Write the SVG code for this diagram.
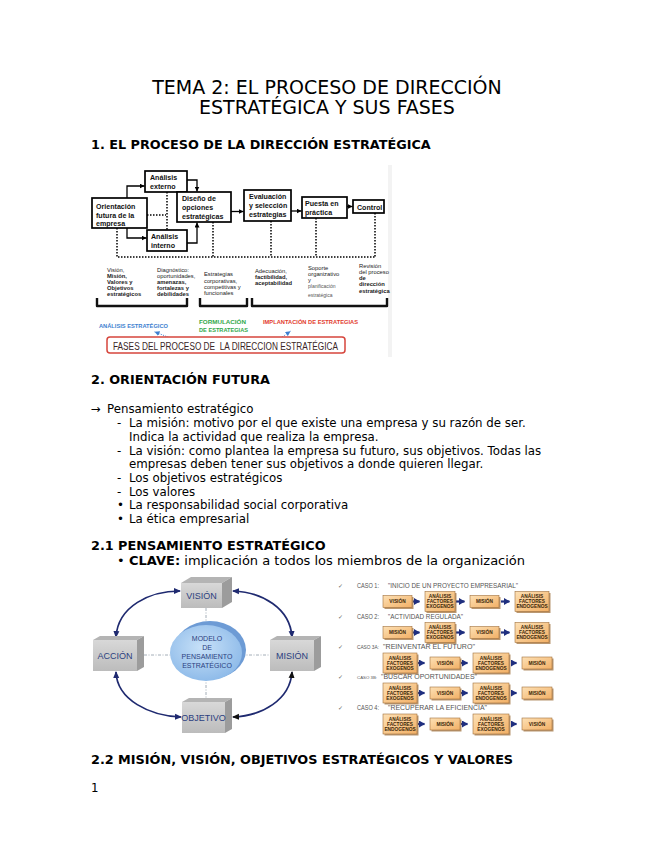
<svg xmlns="http://www.w3.org/2000/svg" width="655" height="848" viewBox="0 0 655 848">
<defs>
<style>
.p{font-family:"DejaVu Sans",sans-serif;fill:#000}
.ti{font-size:19px;text-anchor:middle}
.h{font-size:12.8px;font-weight:bold}
.b{font-size:11.8px}
.bx{fill:#fff;stroke:#000;stroke-width:1.7}
.bt{font-family:"Liberation Sans",Arial,sans-serif;font-weight:bold;font-size:7.1px;fill:#111}
.st{font-family:"Liberation Sans",Arial,sans-serif;font-size:5.8px;fill:#222}
.sm{font-size:5px;fill:#555}
.sb{font-weight:bold}
.ln{fill:none;stroke:#000;stroke-width:1.3}
.dt{fill:none;stroke:#000;stroke-width:1.5;stroke-dasharray:1.5 1.5}
.br{fill:none;stroke:#111;stroke-width:2.4;stroke-linejoin:round}
.lb{font-family:"Liberation Sans",Arial,sans-serif;font-weight:bold;font-size:5.8px}
.gf{fill:url(#gf)}
.gt{fill:#b4b4b4}
.gr{fill:#9c9c9c}
.ct{font-family:"Liberation Sans",Arial,sans-serif;font-size:9px;fill:#2b3f80;text-anchor:middle}
.et{font-family:"Liberation Sans",Arial,sans-serif;font-size:7px;fill:#2b3f80;text-anchor:middle}
.cl{fill:none;stroke:#1f2a70;stroke-width:1.7}
.cd{fill:none;stroke:#8d9aa6;stroke-width:0.8;stroke-dasharray:3 1.5 1 1.5}
.ob{fill:url(#og);stroke:#a0703c;stroke-width:0.6}
.os{fill:#9b6b35;opacity:0.7}
.ot{font-family:"Liberation Sans",Arial,sans-serif;font-weight:bold;font-size:4.8px;fill:#3b2508;text-anchor:middle}
.ca{fill:none;stroke:#1f2f7f;stroke-width:2.2}
.cs{font-family:"Liberation Sans",Arial,sans-serif;font-size:6.3px;fill:#555}
.cn{font-size:4.6px}
.cm{font-size:4.2px}
.ck{font-family:"DejaVu Sans",sans-serif;font-size:6px;fill:#666}
</style>
<marker id="ah" markerUnits="userSpaceOnUse" markerWidth="5" markerHeight="5" refX="5" refY="2.5" orient="auto"><path d="M0,0 L5,2.5 L0,5z" fill="#000"/></marker>
<marker id="nv" markerUnits="userSpaceOnUse" markerWidth="7" markerHeight="7" refX="6" refY="3.5" orient="auto-start-reverse"><path d="M0,0.5 L7,3.5 L0,6.5z" fill="#1f2a70"/></marker>
<marker id="bk" markerUnits="userSpaceOnUse" markerWidth="7" markerHeight="7" refX="6" refY="3.5" orient="auto-start-reverse"><path d="M0,0.5 L7,3.5 L0,6.5z" fill="#111"/></marker>
<marker id="na" markerUnits="userSpaceOnUse" markerWidth="6" markerHeight="7" refX="5.5" refY="3.5" orient="auto"><path d="M0,0 L6,3.5 L0,7z" fill="#1f2f7f"/></marker>
<marker id="ba" markerUnits="userSpaceOnUse" markerWidth="5" markerHeight="5" refX="5" refY="2.5" orient="auto"><path d="M0,0 L5,2.5 L0,5z" fill="#3d7fd0"/></marker>
<linearGradient id="og" x1="0" y1="0" x2="1" y2="1"><stop offset="0" stop-color="#fde0b4"/><stop offset="1" stop-color="#f2b066"/></linearGradient>
<radialGradient id="eg" cx="0.45" cy="0.4" r="0.65"><stop offset="0" stop-color="#c8e1f8"/><stop offset="1" stop-color="#8ab8e8"/></radialGradient>
<linearGradient id="gf" x1="0" y1="0" x2="0" y2="1"><stop offset="0" stop-color="#d8d8d8"/><stop offset="1" stop-color="#bcbcbc"/></linearGradient>
</defs>
<rect width="655" height="848" fill="#fff"/>

<g id="page-text" class="p">
<text class="ti" x="327" y="93.5">TEMA 2: EL PROCESO DE DIRECCIÓN</text>
<text class="ti" x="327" y="113.5">ESTRATÉGICA Y SUS FASES</text>
<text class="h" x="91" y="149">1. EL PROCESO DE LA DIRECCIÓN ESTRATÉGICA</text>
<text class="h" x="91" y="384">2. ORIENTACIÓN FUTURA</text>
<text class="b" x="91" y="413">→</text>
<text class="b" x="107" y="413">Pensamiento estratégico</text>
<text class="b" x="117" y="427">-</text>
<text class="b" x="129" y="427">La misión: motivo por el que existe una empresa y su razón de ser.</text>
<text class="b" x="129" y="441">Indica la actividad que realiza la empresa.</text>
<text class="b" x="117" y="454.5">-</text>
<text class="b" x="129" y="454.5">La visión: como plantea la empresa su futuro, sus objetivos. Todas las</text>
<text class="b" x="129" y="468">empresas deben tener sus objetivos a donde quieren llegar.</text>
<text class="b" x="117" y="482">-</text>
<text class="b" x="129" y="482">Los objetivos estratégicos</text>
<text class="b" x="117" y="495.5">-</text>
<text class="b" x="129" y="495.5">Los valores</text>
<text class="b" x="117" y="509">•</text>
<text class="b" x="129" y="509">La responsabilidad social corporativa</text>
<text class="b" x="117" y="522.5">•</text>
<text class="b" x="129" y="522.5">La ética empresarial</text>
<text class="h" x="91" y="550">2.1 PENSAMIENTO ESTRATÉGICO</text>
<text x="117" y="565" font-size="13">•</text>
<text x="129" y="565" font-size="13"><tspan font-weight="bold">CLAVE:</tspan> implicación a todos los miembros de la organización</text>
<text class="h" x="91" y="764">2.2 MISIÓN, VISIÓN, OBJETIVOS ESTRATÉGICOS Y VALORES</text>
<text class="b" x="91" y="792">1</text>
</g>

<g id="fig1">
<rect x="91" y="165" width="301" height="192" fill="#fff"/>
<rect x="388" y="165" width="4" height="192" fill="#f3f3f3"/>
<g id="connectors1">
<path class="ln" d="M127,198 V186 H144.5" marker-end="url(#ah)"/>
<path class="ln" d="M127,228 V238 H146.5" marker-end="url(#ah)"/>
<path class="ln" d="M187,180 H197 V191.5" marker-end="url(#ah)"/>
<path class="ln" d="M187,243 H197 V222.5" marker-end="url(#ah)"/>
<path class="ln" d="M231,211.5 H243.5" marker-end="url(#ah)"/>
<path class="ln" d="M291,211 H301.5" marker-end="url(#ah)"/>
<path class="ln" d="M347,206.5 H352.5" marker-end="url(#ah)"/>
<path class="dt" d="M167,192 V230"/>
<path class="dt" d="M147,215 H166"/>
<path class="dt" d="M117,228 V257 H375"/>
<path class="dt" d="M213,222 V257"/>
<path class="dt" d="M271,221 V257"/>
<path class="dt" d="M316,218 V257"/>
<path class="dt" d="M375,213 V257"/>
</g>
<g id="n-orientacion"><rect class="bx" x="92" y="198" width="55" height="30"/>
<text class="bt" x="96" y="209">Orientación</text><text class="bt" x="96" y="218">futura de la</text><text class="bt" x="96" y="226">empresa</text></g>
<g id="n-ext"><rect class="bx" x="145" y="171" width="42" height="21"/>
<text class="bt" x="150" y="180">Análisis</text><text class="bt" x="150" y="189">externo</text></g>
<g id="n-int"><rect class="bx" x="147" y="230" width="40" height="21"/>
<text class="bt" x="151" y="239">Análisis</text><text class="bt" x="151" y="248">interno</text></g>
<g id="n-diseno"><rect class="bx" x="177" y="192" width="54" height="30"/>
<text class="bt" x="182" y="201">Diseño de</text><text class="bt" x="182" y="210">opciones</text><text class="bt" x="182" y="219">estratégicas</text></g>
<g id="n-eval"><rect class="bx" x="244" y="190" width="47" height="31"/>
<text class="bt" x="249" y="199">Evaluación</text><text class="bt" x="249" y="208">y selección</text><text class="bt" x="249" y="217">estrategias</text></g>
<g id="n-puesta"><rect class="bx" x="302" y="197" width="45" height="21"/>
<text class="bt" x="305" y="206">Puesta en</text><text class="bt" x="305" y="215">práctica</text></g>
<g id="n-control"><rect class="bx" x="353" y="200" width="31" height="13"/>
<text class="bt" x="357" y="209.5">Control</text></g>

<g id="subtexts">
<text class="st" x="107" y="272">Visión,</text>
<text class="st sb" x="107" y="278">Misión,</text>
<text class="st sb" x="107" y="284">Valores y</text>
<text class="st sb" x="107" y="290">Objetivos</text>
<text class="st sb" x="107" y="296">estratégicos</text>
<text class="st" x="157" y="272">Diagnóstico:</text>
<text class="st" x="157" y="278">oportunidades,</text>
<text class="st sb" x="157" y="284">amenazas,</text>
<text class="st sb" x="157" y="290">fortalezas y</text>
<text class="st sb" x="157" y="296">debilidades</text>
<text class="st" x="204" y="276">Estrategias</text>
<text class="st" x="204" y="283">corporativas,</text>
<text class="st" x="204" y="289">competitivas y</text>
<text class="st" x="204" y="295">funcionales</text>
<text class="st" x="255" y="273">Adecuación,</text>
<text class="st sb" x="255" y="279">factibilidad,</text>
<text class="st sb" x="255" y="285">aceptabilidad</text>
<text class="st" x="308" y="270">Soporte</text>
<text class="st" x="308" y="276">organizativo</text>
<text class="st" x="308" y="282">y</text>
<text class="st sm" x="308" y="288">planificación</text>
<text class="st sm" x="308" y="297">estratégica</text>
<text class="st" x="359" y="268">Revisión</text>
<text class="st" x="359" y="274">del proceso</text>
<text class="st sb" x="359" y="280">de</text>
<text class="st sb" x="359" y="286">dirección</text>
<text class="st sb" x="359" y="293">estratégica</text>
</g>
<path class="br" d="M97,298 V306 H187 V298"/>
<path class="br" d="M200,298 V306 H247 V298"/>
<path class="br" d="M252,298 V306 H387 V298"/>
<text class="lb" x="99" y="328" fill="#3d7fd0" textLength="69" lengthAdjust="spacingAndGlyphs">ANÁLISIS ESTRATÉGICO</text>
<text class="lb" x="199" y="324" fill="#31a84a" textLength="47" lengthAdjust="spacingAndGlyphs">FORMULACIÓN</text>
<text class="lb" x="199" y="331.5" fill="#31a84a" textLength="49" lengthAdjust="spacingAndGlyphs">DE ESTRATEGIAS</text>
<text class="lb" x="263" y="323.5" fill="#e23a2e" textLength="95" lengthAdjust="spacingAndGlyphs">IMPLANTACIÓN DE ESTRATEGIAS</text>
<path d="M173,339 L154.5,331.8" fill="none" stroke="#3d7fd0" stroke-width="0.9" stroke-dasharray="1.2 1.2" marker-end="url(#ba)"/>
<path d="M278,340 L290.5,331.2" fill="none" stroke="#3d7fd0" stroke-width="0.9" stroke-dasharray="1.2 1.2" marker-end="url(#ba)"/>
<rect x="107" y="337" width="238" height="16" rx="3" fill="#fff" stroke="#d6453c" stroke-width="1.5"/>
<text x="113" y="349.5" xml:space="preserve" font-family="Liberation Sans, Arial, sans-serif" font-size="10" fill="#3a2626" textLength="225" lengthAdjust="spacingAndGlyphs">FASES DEL PROCESO DE  LA DIRECCION ESTRATÉGICA</text>
</g>

<g id="fig2">
<g id="connectors2">
<path class="cd" d="M206,608 V702"/>
<path class="cd" d="M137,655 H270"/>
<path class="cl" d="M180,591 C150,591 118,606 116,637" marker-start="url(#nv)" marker-end="url(#nv)"/>
<path class="cl" d="M233,591 C262,592 290,608 292,637" marker-start="url(#nv)" marker-end="url(#nv)"/>
<path class="cl" d="M116,672 C117,700 150,716 181,717" marker-start="url(#nv)" marker-end="url(#nv)"/>
<path class="cl" d="M292,672 C290,700 262,716 233,717" stroke="#111" marker-start="url(#bk)" marker-end="url(#bk)"/>
</g>
<g id="n-vision">
<polygon class="gt" points="181,583 191,577 232,577 222,583"/>
<polygon class="gr" points="222,583 232,577 232,602 222,608"/>
<rect class="gf" x="181" y="583" width="41" height="25"/>
<text class="ct" x="201.5" y="599">VISIÓN</text></g>
<g id="n-accion">
<polygon class="gt" points="93,640 100,636 144,636 137,640"/>
<polygon class="gr" points="137,640 144,636 144,667 137,671"/>
<rect class="gf" x="93" y="640" width="44" height="31"/>
<text class="ct" x="115" y="659">ACCIÓN</text></g>
<g id="n-mision">
<polygon class="gt" points="270,640 277,636 321,636 314,640"/>
<polygon class="gr" points="314,640 321,636 321,667 314,671"/>
<rect class="gf" x="270" y="640" width="44" height="31"/>
<text class="ct" x="292" y="659">MISIÓN</text></g>
<g id="n-objetivo">
<polygon class="gt" points="182,702 189,698 232,698 225,702"/>
<polygon class="gr" points="225,702 232,698 232,729 225,733"/>
<rect class="gf" x="182" y="702" width="43" height="31"/>
<text class="ct" x="203.5" y="721">OBJETIVO</text></g>
<g id="n-modelo">
<ellipse cx="210" cy="650" rx="36" ry="29" fill="#6d9bd5"/>
<ellipse cx="206" cy="653" rx="36" ry="28" fill="url(#eg)"/>
<text class="et" x="207" y="641">MODELO</text>
<text class="et" x="207" y="649.5">DE</text>
<text class="et" x="207" y="658.5">PENSAMIENTO</text>
<text class="et" x="207" y="668">ESTRATÉGICO</text></g>
</g>

<g id="fig3">
<g id="labels3">
<text class="ck" x="338" y="588">✓</text>
<text class="cs" x="357" y="588" textLength="22" lengthAdjust="spacingAndGlyphs">CASO 1:</text>
<text class="cs" x="388" y="588" textLength="130" lengthAdjust="spacingAndGlyphs">"INICIO DE UN PROYECTO EMPRESARIAL"</text>
<text class="ck" x="338" y="619">✓</text>
<text class="cs" x="357" y="619" textLength="22" lengthAdjust="spacingAndGlyphs">CASO 2:</text>
<text class="cs" x="388" y="619" textLength="75" lengthAdjust="spacingAndGlyphs">"ACTIVIDAD REGULADA"</text>
<text class="ck" x="338" y="648.5">✓</text>
<text class="cs cn" x="357" y="648.5" textLength="22" lengthAdjust="spacingAndGlyphs">CASO 3A:</text>
<text class="cs" x="383" y="648.5" textLength="92" lengthAdjust="spacingAndGlyphs">"REINVENTAR EL FUTURO"</text>
<text class="ck" x="338" y="678.5">✓</text>
<text class="cs cm" x="357" y="678.5" textLength="20" lengthAdjust="spacingAndGlyphs">CASO 3B:</text>
<text class="cs" x="381" y="678.5" textLength="96" lengthAdjust="spacingAndGlyphs">"BUSCAR OPORTUNIDADES"</text>
<text class="ck" x="338" y="709.5">✓</text>
<text class="cs" x="357" y="709.5" textLength="22" lengthAdjust="spacingAndGlyphs">CASO 4:</text>
<text class="cs" x="388" y="709.5" textLength="99" lengthAdjust="spacingAndGlyphs">"RECUPERAR LA EFICIENCIA"</text>
</g>
<g id="connectors3">
<path class="ca" d="M413,601.5 H419.5" marker-end="url(#na)"/>
<path class="ca" d="M456,601.5 H464.5" marker-end="url(#na)"/>
<path class="ca" d="M501,601.5 H509.5" marker-end="url(#na)"/>
<path class="ca" d="M413,632.5 H419.5" marker-end="url(#na)"/>
<path class="ca" d="M456,632.5 H464.5" marker-end="url(#na)"/>
<path class="ca" d="M501,632.5 H509.5" marker-end="url(#na)"/>
<path class="ca" d="M418,663 H424.5" marker-end="url(#na)"/>
<path class="ca" d="M461,663 H467.5" marker-end="url(#na)"/>
<path class="ca" d="M511,663 H516.5" marker-end="url(#na)"/>
<path class="ca" d="M418,693 H424.5" marker-end="url(#na)"/>
<path class="ca" d="M461,693 H467.5" marker-end="url(#na)"/>
<path class="ca" d="M511,693 H516.5" marker-end="url(#na)"/>
<path class="ca" d="M418,724 H424.5" marker-end="url(#na)"/>
<path class="ca" d="M461,724 H467.5" marker-end="url(#na)"/>
<path class="ca" d="M511,724 H516.5" marker-end="url(#na)"/>
</g>
<g id="caso1">
<rect class="os" x="384.5" y="597" width="29" height="12"/><rect class="ob" x="383" y="595.5" width="29" height="12"/><text class="ot" x="397.5" y="603.3">VISIÓN</text>
<rect class="os" x="426.5" y="593" width="30" height="20"/><rect class="ob" x="425" y="591.5" width="30" height="20"/><text class="ot" x="440" y="597.8">ANÁLISIS</text><text class="ot" x="440" y="603.1">FACTORES</text><text class="ot" x="440" y="608.4">EXOGENOS</text>
<rect class="os" x="471.5" y="597" width="29" height="12"/><rect class="ob" x="470" y="595.5" width="29" height="12"/><text class="ot" x="484.5" y="603.3">MISIÓN</text>
<rect class="os" x="516.5" y="593" width="34" height="20"/><rect class="ob" x="515" y="591.5" width="34" height="20"/><text class="ot" x="532" y="597.8">ANÁLISIS</text><text class="ot" x="532" y="603.1">FACTORES</text><text class="ot" x="532" y="608.4">ENDOGENOS</text>
</g>
<g id="caso2">
<rect class="os" x="384.5" y="628" width="29" height="12"/><rect class="ob" x="383" y="626.5" width="29" height="12"/><text class="ot" x="397.5" y="634.3">MISIÓN</text>
<rect class="os" x="426.5" y="624" width="30" height="20"/><rect class="ob" x="425" y="622.5" width="30" height="20"/><text class="ot" x="440" y="628.8">ANÁLISIS</text><text class="ot" x="440" y="634.1">FACTORES</text><text class="ot" x="440" y="639.4">EXOGENOS</text>
<rect class="os" x="471.5" y="628" width="29" height="12"/><rect class="ob" x="470" y="626.5" width="29" height="12"/><text class="ot" x="484.5" y="634.3">VISIÓN</text>
<rect class="os" x="516.5" y="624" width="34" height="20"/><rect class="ob" x="515" y="622.5" width="34" height="20"/><text class="ot" x="532" y="628.8">ANÁLISIS</text><text class="ot" x="532" y="634.1">FACTORES</text><text class="ot" x="532" y="639.4">ENDOGENOS</text>
</g>
<g id="caso3a">
<rect class="os" x="384.5" y="654.5" width="34" height="20"/><rect class="ob" x="383" y="653" width="34" height="20"/><text class="ot" x="400" y="659.6">ANÁLISIS</text><text class="ot" x="400" y="664.8">FACTORES</text><text class="ot" x="400" y="670">EXOGENOS</text>
<rect class="os" x="431.5" y="658.5" width="30" height="12"/><rect class="ob" x="430" y="657" width="30" height="12"/><text class="ot" x="445" y="664.8">VISIÓN</text>
<rect class="os" x="474.5" y="654.5" width="36" height="20"/><rect class="ob" x="473" y="653" width="36" height="20"/><text class="ot" x="491" y="659.6">ANÁLISIS</text><text class="ot" x="491" y="664.8">FACTORES</text><text class="ot" x="491" y="670">ENDOGENOS</text>
<rect class="os" x="523.5" y="658.5" width="30" height="12"/><rect class="ob" x="522" y="657" width="30" height="12"/><text class="ot" x="537" y="664.8">MISIÓN</text>
</g>
<g id="caso3b">
<rect class="os" x="384.5" y="684.5" width="34" height="20"/><rect class="ob" x="383" y="683" width="34" height="20"/><text class="ot" x="400" y="689.6">ANÁLISIS</text><text class="ot" x="400" y="694.8">FACTORES</text><text class="ot" x="400" y="700">EXOGENOS</text>
<rect class="os" x="431.5" y="688.5" width="30" height="12"/><rect class="ob" x="430" y="687" width="30" height="12"/><text class="ot" x="445" y="694.8">VISIÓN</text>
<rect class="os" x="474.5" y="684.5" width="36" height="20"/><rect class="ob" x="473" y="683" width="36" height="20"/><text class="ot" x="491" y="689.6">ANÁLISIS</text><text class="ot" x="491" y="694.8">FACTORES</text><text class="ot" x="491" y="700">ENDOGENOS</text>
<rect class="os" x="523.5" y="688.5" width="30" height="12"/><rect class="ob" x="522" y="687" width="30" height="12"/><text class="ot" x="537" y="694.8">MISIÓN</text>
</g>
<g id="caso4">
<rect class="os" x="384.5" y="715.5" width="34" height="20"/><rect class="ob" x="383" y="714" width="34" height="20"/><text class="ot" x="400" y="720.6">ANÁLISIS</text><text class="ot" x="400" y="725.8">FACTORES</text><text class="ot" x="400" y="731">ENDOGENOS</text>
<rect class="os" x="431.5" y="719.5" width="30" height="12"/><rect class="ob" x="430" y="718" width="30" height="12"/><text class="ot" x="445" y="725.8">MISIÓN</text>
<rect class="os" x="474.5" y="715.5" width="36" height="20"/><rect class="ob" x="473" y="714" width="36" height="20"/><text class="ot" x="491" y="720.6">ANÁLISIS</text><text class="ot" x="491" y="725.8">FACTORES</text><text class="ot" x="491" y="731">EXOGENOS</text>
<rect class="os" x="523.5" y="719.5" width="30" height="12"/><rect class="ob" x="522" y="718" width="30" height="12"/><text class="ot" x="537" y="725.8">VISIÓN</text>
</g>
</g>
</svg>
